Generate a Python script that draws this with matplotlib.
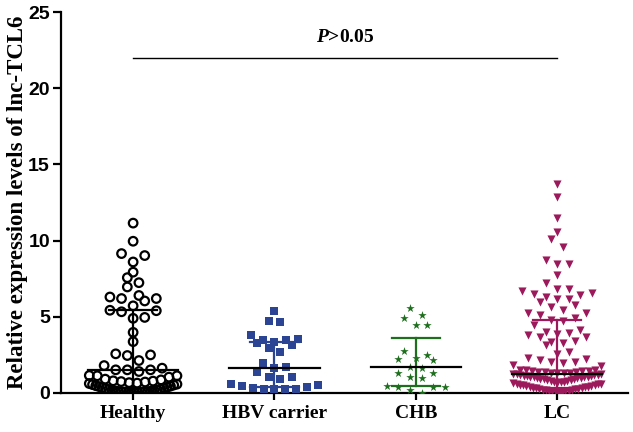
import numpy as np
import matplotlib
matplotlib.use('Agg')
import matplotlib.pyplot as plt

# serif bold italic P in the annotation
plt.rcParams['mathtext.fontset'] = 'custom'
plt.rcParams['mathtext.it'] = 'Liberation Serif:italic:bold'
plt.rcParams['mathtext.rm'] = 'Liberation Serif:bold'

# group names
groups = ['Healthy', 'HBV carrier', 'CHB', 'LC']

# relative expression values
healthy = [11.15, 9.96, 9.15, 9.02, 8.60, 7.93, 7.57, 7.24, 6.96, 6.40, 6.30, 6.20, 6.20,
           6.04, 5.72, 5.43, 5.40, 5.33, 4.96, 4.90, 3.98, 3.37, 2.57, 2.50, 2.46, 2.13,
           1.80, 1.63, 1.52, 1.52, 1.52, 1.41, 1.15, 1.13, 1.13, 1.04, 0.91, 0.86,
           0.80, 0.78, 0.75, 0.72, 0.68, 0.65, 0.62, 0.58, 0.55, 0.52, 0.48, 0.45, 0.42,
           0.38, 0.35, 0.32, 0.29, 0.26, 0.23, 0.20, 0.18, 0.16, 0.14, 0.12, 0.10, 0.09,
           0.08, 0.07, 0.06, 0.05, 0.04, 0.03, 0.02, 0.02]
hbv = [5.38, 4.70, 4.66, 3.83, 3.53, 3.46, 3.46, 3.35, 3.25, 3.14, 2.98, 2.66, 2.00,
       1.68, 1.61, 1.39, 1.07, 1.02, 0.89, 0.59, 0.52, 0.48, 0.41, 0.30, 0.28, 0.27,
       0.26, 0.25]
chb = [5.60, 5.14, 4.92, 4.49, 4.47, 2.75, 2.48, 2.31, 2.20, 2.16, 1.68, 1.66, 1.33,
       1.31, 1.02, 1.00, 0.48, 0.41, 0.37, 0.37, 0.20, 0.03]
lc = [13.70, 12.85, 11.50, 10.55, 10.10, 9.60, 8.70, 8.45, 8.45, 7.75, 7.25, 6.85, 6.80,
      6.70, 6.55, 6.50, 6.40, 6.30, 6.15, 6.15, 5.95, 5.80, 5.65, 5.45, 5.25, 5.25, 5.10,
      4.90, 4.80, 4.75, 4.45, 4.12, 4.00, 3.94, 3.90, 3.79, 3.68, 3.68, 3.40, 3.35, 3.29,
      3.14, 2.70, 2.59, 2.27, 2.20, 2.16, 2.05, 2.05, 1.98, 1.83, 1.76,
      1.52, 1.50, 1.48, 1.46, 1.44, 1.42, 1.40, 1.38, 1.36, 1.34, 1.32, 1.30, 1.28, 1.26,
      1.24, 1.22, 1.20, 1.18, 1.16, 1.14, 1.12, 1.10, 1.08, 1.06, 1.04, 1.02, 1.00, 0.98,
      0.96, 0.94, 0.92, 0.90,
      0.85, 0.82, 0.80, 0.78, 0.75, 0.72, 0.70, 0.67, 0.64, 0.62, 0.60, 0.57, 0.54, 0.52,
      0.50, 0.47, 0.44, 0.42, 0.40, 0.37, 0.35, 0.32, 0.30, 0.28, 0.26, 0.24, 0.22, 0.20,
      0.18, 0.16, 0.14, 0.12, 0.10, 0.08, 0.07, 0.06]

# median and interquartile range shown as bars
medians = [1.48, 1.66, 1.70, 1.22]
q1 = [0.30, 0.40, 0.48, 0.35]
q3 = [5.43, 3.35, 3.62, 4.77]

p_text = '>0.05'


def scatter_offsets(vals, bin_h, step, max_w):
	# column-scatter layout: rows of similar values, smallest in the middle
	vals = np.asarray(vals, dtype=float)
	order = np.argsort(vals)
	offs = np.zeros(len(vals))
	rows, cur, start = [], [], None
	for i in order:
		if start is None or vals[i] > start + bin_h:
			if cur:
				rows.append(cur)
			cur, start = [], vals[i]
		cur.append(i)
	rows.append(cur)
	for row in rows:
		n = len(row)
		s = step if n < 2 else min(step, max_w / (n - 1))
		slots = np.arange(n) - (n - 1) / 2.0
		slots = sorted(slots, key=lambda v: (abs(v), -v))
		for i, sl in zip(row, slots):
			offs[i] = sl * s
	return offs


fig = plt.figure(figsize=(6.33, 4.32), dpi=100)
ax = fig.add_axes([0.0964, 0.0903, 0.8956, 0.8817])

data = [healthy, hbv, chb, lc]
colors = ['black', '#2B4594', '#1D6E1D', '#9C1A5C']
markers = ['o', 's', '*', 'v']
sizes = [38, 30, 40, 34]

for k, vals in enumerate(data):
	xo = scatter_offsets(vals, 0.6, 0.082, 0.62)
	if k == 0:
		ax.scatter(k + xo, vals, s=sizes[k], marker=markers[k], facecolors='none',
				   edgecolors=colors[k], linewidths=1.6, zorder=3)
	else:
		ax.scatter(k + xo, vals, s=sizes[k], marker=markers[k], color=colors[k],
				   linewidths=0, zorder=3)
	# interquartile bar with caps
	ax.plot([k, k], [q1[k], q3[k]], color=colors[k], lw=1.6, zorder=4)
	ax.plot([k - 0.17, k + 0.17], [q3[k], q3[k]], color=colors[k], lw=1.6, zorder=4)
	ax.plot([k - 0.17, k + 0.17], [q1[k], q1[k]], color=colors[k], lw=1.6, zorder=4)
	# median line
	ax.plot([k - 0.32, k + 0.32], [medians[k], medians[k]], color='black', lw=1.6, zorder=5)

# significance line
ax.plot([0, 3], [22, 22], color='black', lw=1.0)
ax.text(1.5, 22.8, r'$\mathit{P}$' + p_text, ha='center', va='bottom', fontsize=14,
		fontweight='bold', family='Liberation Serif')

ax.set_xlim(-0.51, 3.5)
ax.set_ylim(0, 25)
ax.set_yticks([0, 5, 10, 15, 20, 25])
ax.set_xticks(range(len(groups)))
ax.set_xticklabels(groups, fontsize=14, fontweight='bold', family='Liberation Serif')
for lab in ax.get_yticklabels():
	lab.set_fontsize(14)
	lab.set_fontweight('bold')
	lab.set_family('Liberation Sans')
ax.set_ylabel('Relative expression levels of lnc-TCL6', fontsize=16.5, fontweight='bold',
			  family='Liberation Serif', labelpad=0)

ax.spines['top'].set_visible(False)
ax.spines['right'].set_visible(False)
ax.spines['left'].set_linewidth(1.6)
ax.spines['bottom'].set_linewidth(1.6)
ax.tick_params(axis='y', length=6, width=1.6, pad=2)
ax.tick_params(axis='x', length=5, width=1.6, pad=4)

fig.savefig('out.png', dpi=100)
